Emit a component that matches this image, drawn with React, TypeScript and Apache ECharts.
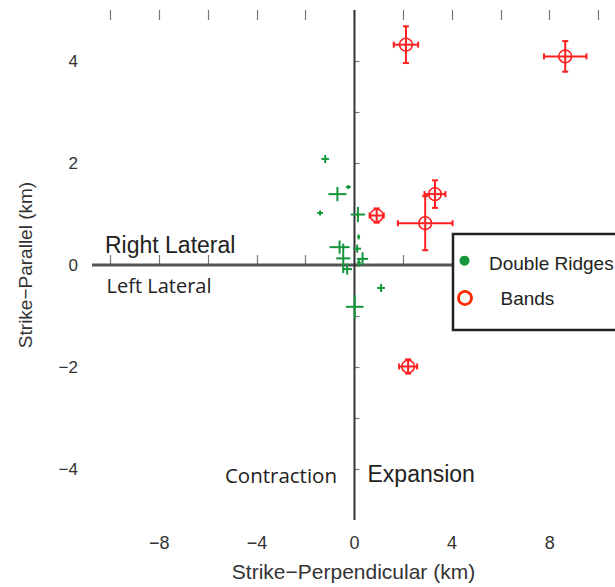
import React, { useEffect, useRef } from "react";
import * as echarts from "echarts";

// Double Ridges (green crosses): center and half-widths of error bars
const ridgeX = [-1.2, -0.25, -0.7, -1.41, 0.14, 0.17, 0.11, -0.61, -0.46, -0.3, 0.33, 0.18, 1.09, 0.01];
const ridgeY = [2.08, 1.53, 1.39, 1.02, 0.99, 0.55, 0.32, 0.35, 0.13, -0.08, 0.12, 0.05, -0.45, -0.82];
const ridgeXErr = [0.16, 0.1, 0.37, 0.12, 0.29, 0.06, 0.16, 0.41, 0.29, 0.2, 0.23, 0.08, 0.16, 0.36];
const ridgeYErr = [0.08, 0.04, 0.14, 0.05, 0.15, 0.05, 0.08, 0.13, 0.29, 0.11, 0.13, 0.08, 0.08, 0.23];

// Bands (red circles with capped error bars)
const bandX = [2.11, 8.64, 0.91, 3.3, 2.9, 2.2];
const bandY = [4.32, 4.09, 0.97, 1.39, 0.82, -1.99];
const bandXErr = [0.5, 0.87, 0.29, 0.43, 1.12, 0.37];
const bandYErr = [0.36, 0.3, 0.14, 0.27, 0.53, 0.14];

const xTicks = [-10, -8, -6, -4, -2, 0, 2, 4, 6, 8, 10];
const xLabels = [-8, -4, 0, 4, 8];
const yTicks = [-4, -3, -2, -1, 0, 1, 2, 3, 4];
const yLabels = [-4, -2, 0, 2, 4];

const X_MIN = -10.76;
const X_MAX = 10.68;
const Y_MIN = -5;
const Y_MAX = 5;

const GREEN = "#14963c";
const RED = "#ff1f1f";
const SANS = "'Liberation Sans', Arial, Helvetica, sans-serif";
const OPEN = "'Open Sans', 'Noto Sans', sans-serif";

const minus = (v: number) => String(v).replace("-", "\u2212");

export default function App() {
  const ref = useRef<HTMLDivElement>(null);

  useEffect(() => {
    if (!ref.current) return;
    const chart = echarts.init(ref.current, null, { renderer: "svg" });

    const ridgeData = ridgeX.map((x, i) => [x, ridgeY[i], ridgeXErr[i], ridgeYErr[i]]);
    const bandData = bandX.map((x, i) => [x, bandY[i], bandXErr[i], bandYErr[i]]);

    const crossItem = (withCaps: boolean, color: string) => (params: any, api: any) => {
      const x = api.value(0);
      const y = api.value(1);
      const xe = api.value(2);
      const ye = api.value(3);
      const c = api.coord([x, y]);
      const l = api.coord([x - xe, y]);
      const r = api.coord([x + xe, y]);
      const t = api.coord([x, y + ye]);
      const b = api.coord([x, y - ye]);
      const st = { stroke: color, lineWidth: 2 };
      const children: any[] = [
        { type: "line", shape: { x1: l[0], y1: c[1], x2: r[0], y2: c[1] }, style: st },
        { type: "line", shape: { x1: c[0], y1: t[1], x2: c[0], y2: b[1] }, style: st },
      ];
      if (withCaps) {
        const cap = 3;
        children.push(
          { type: "line", shape: { x1: l[0], y1: c[1] - cap, x2: l[0], y2: c[1] + cap }, style: st },
          { type: "line", shape: { x1: r[0], y1: c[1] - cap, x2: r[0], y2: c[1] + cap }, style: st },
          { type: "line", shape: { x1: c[0] - cap, y1: t[1], x2: c[0] + cap, y2: t[1] }, style: st },
          { type: "line", shape: { x1: c[0] - cap, y1: b[1], x2: c[0] + cap, y2: b[1] }, style: st },
          { type: "circle", shape: { cx: c[0], cy: c[1], r: 6.3 }, style: { fill: "none", stroke: color, lineWidth: 1.5 } }
        );
      }
      return { type: "group", children };
    };

    const tickStyle = { color: "#777", width: 1.2 };

    const option: any = {
      animation: false,
      backgroundColor: "#ffffff",
      grid: { left: 92, top: 10, width: 523, height: 512, containLabel: false },
      xAxis: [
        {
          type: "value",
          position: "bottom",
          min: X_MIN,
          max: X_MAX,
          axisLine: { show: false },
          splitLine: { show: false },
          axisTick: { show: true, inside: true, length: 10, lineStyle: tickStyle, customValues: xTicks },
          axisLabel: {
            customValues: xLabels,
            formatter: minus,
            fontFamily: SANS,
            fontSize: 18,
            color: "#333",
            margin: 14,
          },
          name: "Strike\u2212Perpendicular (km)",
          nameLocation: "middle",
          nameGap: 41,
          nameTextStyle: { fontFamily: SANS, fontSize: 21, color: "#333" },
        },
        {
          type: "value",
          position: "top",
          min: X_MIN,
          max: X_MAX,
          axisLine: { show: false },
          splitLine: { show: false },
          axisTick: { show: true, inside: true, length: 10, lineStyle: tickStyle, customValues: xTicks },
          axisLabel: { show: false },
        },
      ],
      yAxis: {
        type: "value",
        min: Y_MIN,
        max: Y_MAX,
        axisLine: { show: false },
        splitLine: { show: false },
        axisTick: { show: true, inside: true, length: 5, lineStyle: tickStyle, customValues: yTicks },
        axisLabel: {
          customValues: yLabels,
          formatter: minus,
          fontFamily: SANS,
          fontSize: 17,
          color: "#333",
          margin: 14,
        },
        name: "Strike\u2212Parallel (km)",
        nameLocation: "middle",
        nameRotate: 90,
        nameGap: 57,
        nameTextStyle: { fontFamily: SANS, fontSize: 19, color: "#333" },
      },
      series: [
        {
          type: "line",
          data: [[X_MIN, 0], [X_MAX, 0]],
          showSymbol: false,
          silent: true,
          lineStyle: { color: "#555", width: 3 },
          z: 1,
        },
        {
          type: "line",
          data: [[0, Y_MIN], [0, Y_MAX]],
          showSymbol: false,
          silent: true,
          lineStyle: { color: "#333", width: 2 },
          z: 1,
        },
        {
          type: "custom",
          name: "Double Ridges",
          data: ridgeData,
          renderItem: crossItem(false, GREEN),
          encode: { x: 0, y: 1 },
          z: 3,
        },
        {
          type: "custom",
          name: "Bands",
          data: bandData,
          renderItem: crossItem(true, RED),
          encode: { x: 0, y: 1 },
          z: 4,
        },
      ],
      graphic: [
        { type: "text", z: 50, style: { text: "Right Lateral", x: 105, y: 245, verticalAlign: "middle", font: `23px ${SANS}`, fill: "#222" } },
        { type: "text", z: 50, style: { text: "Left Lateral", x: 106.5, y: 285, verticalAlign: "middle", font: `20px ${OPEN}`, fill: "#222" } },
        { type: "text", z: 50, style: { text: "Contraction", x: 337, y: 475, align: "right", verticalAlign: "middle", font: `20.5px ${OPEN}`, fill: "#222" } },
        { type: "text", z: 50, style: { text: "Expansion", x: 367.5, y: 474, verticalAlign: "middle", font: `23px ${SANS}`, fill: "#222" } },
        {
          type: "rect",
          z: 100,
          shape: { x: 453, y: 234, width: 220, height: 96 },
          style: { fill: "#fff", stroke: "#222", lineWidth: 2.5 },
        },
        { type: "circle", z: 101, shape: { cx: 464.5, cy: 260.7, r: 5 }, style: { fill: GREEN } },
        { type: "circle", z: 101, shape: { cx: 465, cy: 298, r: 6.5 }, style: { fill: "none", stroke: "#ff2a00", lineWidth: 2.8 } },
        { type: "text", z: 101, style: { text: "Double Ridges", x: 489, y: 263, verticalAlign: "middle", font: `19px ${SANS}`, fill: "#222" } },
        { type: "text", z: 101, style: { text: "Bands", x: 500.5, y: 298.6, verticalAlign: "middle", font: `19px ${SANS}`, fill: "#222" } },
      ],
    };

    chart.setOption(option);
    return () => chart.dispose();
  }, []);

  return (
    <div
      ref={ref}
      style={{ position: "absolute", left: 0, top: 0, width: 615, height: 587, background: "#fff" }}
    />
  );
}
